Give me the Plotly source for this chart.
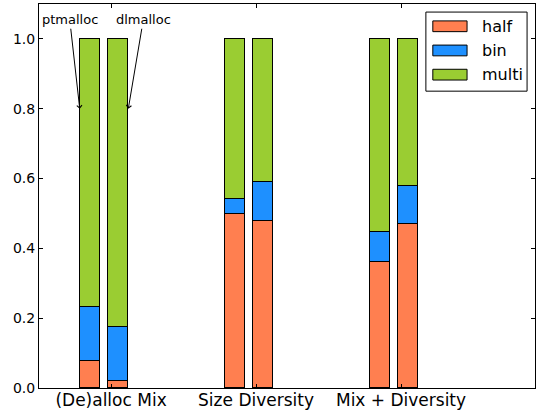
import plotly.graph_objects as go

# Workload groups and per-allocator fractions of frees by category
groups = ["(De)alloc Mix", "Size Diversity", "Mix + Diversity"]
allocators = ["ptmalloc", "dlmalloc"]

pt_half = [0.076, 0.498, 0.362]
pt_bin = [0.157, 0.042, 0.085]
pt_multi = [0.767, 0.460, 0.553]

dl_half = [0.021, 0.477, 0.471]
dl_bin = [0.154, 0.114, 0.109]
dl_multi = [0.825, 0.409, 0.420]

series = ["half", "bin", "multi"]
colors = {"half": "#FF7F50", "bin": "#1E90FF", "multi": "#9ACD32"}
values = {
    "half": (pt_half, dl_half),
    "bin": (pt_bin, dl_bin),
    "multi": (pt_multi, dl_multi),
}

# bar placement relative to each group's tick
offsets = [-0.145, 0.048]
bar_width = 0.142
font = "DejaVu Sans"

fig = go.Figure()
for name in series:
    xs, ys = [], []
    for k, vals in enumerate(values[name]):
        for i, v in enumerate(vals):
            xs.append(i + offsets[k])
            ys.append(v)
    fig.add_trace(go.Bar(
        x=xs, y=ys, width=bar_width, name=name,
        marker=dict(color=colors[name], line=dict(color="black", width=1)),
        showlegend=False,
    ))

# allocator callouts pointing at the first group's bars
fig.add_annotation(x=0 + offsets[0] - bar_width / 2, y=0.8, xref="x", yref="y",
                   text=allocators[0], showarrow=True, arrowhead=4, arrowsize=1,
                   arrowwidth=1, arrowcolor="black", ax=-10, ay=-89,
                   font=dict(family=font, size=13, color="black"))
fig.add_annotation(x=0 + offsets[1] + bar_width / 2, y=0.8, xref="x", yref="y",
                   text=allocators[1], showarrow=True, arrowhead=4, arrowsize=1,
                   arrowwidth=1, arrowcolor="black", ax=15, ay=-89,
                   font=dict(family=font, size=13, color="black"))

# boxed legend in the upper right corner
fig.add_shape(type="rect", xref="paper", yref="paper",
              x0=0.780, x1=0.984, y0=0.773, y1=0.979,
              line=dict(color="black", width=1), fillcolor="white", layer="above")
row_y = [0.942, 0.879, 0.816]
for name, yc in zip(series, row_y):
    fig.add_shape(type="rect", xref="paper", yref="paper",
                  x0=0.794, x1=0.863, y0=yc - 0.014, y1=yc + 0.014,
                  line=dict(color="black", width=1), fillcolor=colors[name],
                  layer="above")
    fig.add_annotation(x=0.889, y=yc, xref="paper", yref="paper", text=name,
                       showarrow=False, xanchor="left", yanchor="middle",
                       font=dict(family=font, size=16, color="black"))

fig.update_layout(
    width=540, height=412,
    margin=dict(l=39, r=5, t=4, b=24),
    barmode="stack",
    bargap=0,
    plot_bgcolor="white",
    paper_bgcolor="white",
    font=dict(family=font, color="black"),
    xaxis=dict(
        range=[-0.497, 2.924], tickvals=[0, 1, 2], ticktext=groups,
        ticks="inside", ticklen=4, tickcolor="black",
        showline=True, linecolor="black", linewidth=1, mirror="allticks",
        showgrid=False, zeroline=False, automargin=False,
        ticklabelstandoff=-3,
        tickfont=dict(family=font, size=17, color="black"),
    ),
    yaxis=dict(
        range=[0, 1.1], tickvals=[0, 0.2, 0.4, 0.6, 0.8, 1.0], tickformat=".1f",
        ticks="inside", ticklen=4, tickcolor="black",
        showline=True, linecolor="black", linewidth=1, mirror="allticks",
        showgrid=False, zeroline=False, automargin=False,
        tickfont=dict(family=font, size=14, color="black"),
    ),
)

fig.write_html("out.html")
